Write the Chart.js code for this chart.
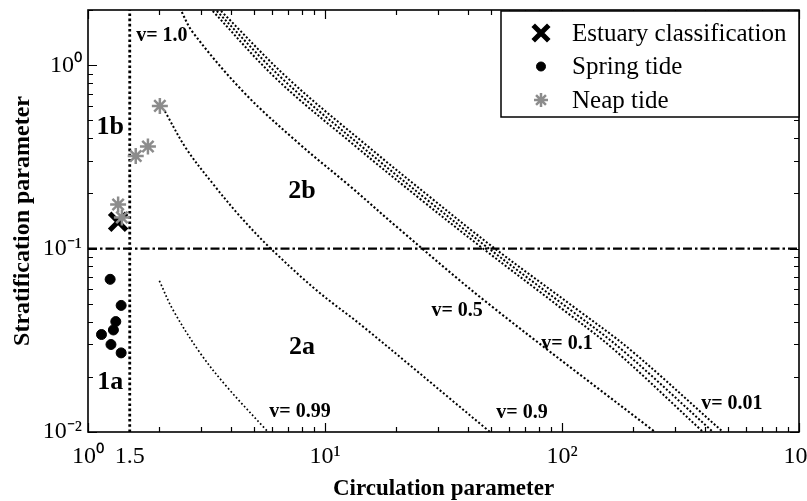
<!DOCTYPE html>
<html>
<head>
<meta charset="utf-8">
<script src="https://cdn.jsdelivr.net/npm/chart.js@4.4.0/dist/chart.umd.min.js"></script>
<style>
  html, body { margin: 0; padding: 0; background: #fff; overflow: hidden; }
  #wrap { width: 815px; height: 501px; }
</style>
</head>
<body>
<div id="wrap"><canvas id="chart"></canvas></div>
<script>
const estuaryX = [1.34];
const estuaryY = [0.14];

const springX = [1.24, 1.38, 1.31, 1.28, 1.14, 1.25, 1.38];
const springY = [0.068, 0.049, 0.040, 0.036, 0.034, 0.030, 0.027];

const neapX = [2.01, 1.79, 1.59, 1.34, 1.39];
const neapY = [0.60, 0.36, 0.32, 0.174, 0.148];

// v iso-lines (Hansen-Rattray)
const v10X = [1.5, 1.5];
const v10Y = [0.01, 2];

const v099X = [2.0, 2.28, 2.97, 3.86, 5.75];
const v099Y = [0.0668, 0.0465, 0.027, 0.0176, 0.01];

const v09X = [2.11, 2.6, 3.4, 4.38, 5.86, 9.25, 14.5, 49.7];
const v09Y = [0.561, 0.350, 0.222, 0.150, 0.101, 0.0590, 0.0375, 0.01];

const v05X = [2.44, 2.77, 4.6, 7.84, 12.8, 20.7, 48.3, 247];
const v05Y = [2.05, 1.51, 0.70, 0.370, 0.218, 0.127, 0.0507, 0.01];

const v01X = [3.27, 6.27, 13.5, 25.4, 46.0, 101, 166, 394];
const v01Y = [2.05, 0.837, 0.360, 0.185, 0.101, 0.0465, 0.0281, 0.01];

const v005X = [3.40, 6.65, 14.3, 26.9, 48.7, 108, 179, 434];
const v005Y = [2.05, 0.837, 0.360, 0.185, 0.101, 0.0465, 0.0281, 0.01];

const v001X = [3.54, 7.05, 15.2, 28.6, 51.6, 116, 194, 478];
const v001Y = [2.05, 0.837, 0.360, 0.185, 0.101, 0.0465, 0.0281, 0.01];

// stratification split a/b
const splitX = [1, 1000];
const splitY = [0.1, 0.1];

// axis ticks
const xLabelVals = [1, 1.5, 10, 100, 1000];
const xLabels = ['10\u2070', '1.5', '10\u00b9', '10\u00b2', '10\u00b3'];
const yLabelVals = [0.01, 0.1, 1];
const yLabels = ['10\u207b\u00b2', '10\u207b\u00b9', '10\u2070'];

const serif = "'Liberation Serif', 'Times New Roman', serif";

function pts(xs, ys) {
  return xs.map((x, i) => ({ x: x, y: ys[i] }));
}

function logTicks(min, max, extra) {
  const out = [];
  for (let d = min; d < max * 0.999; d *= 10) {
    for (let k = 1; k < 10; k++) {
      const v = +(d * k).toPrecision(6);
      if (v <= max * 1.0001) out.push(v);
    }
  }
  if (!out.includes(max)) out.push(max);
  (extra || []).forEach(v => { if (!out.includes(v)) out.push(v); });
  return out.sort((a, b) => a - b);
}

function isDecade(v) {
  const l = Math.log10(v);
  return Math.abs(l - Math.round(l)) < 1e-6;
}

function curve(label, xs, ys, width, dash) {
  return {
    label: label,
    data: pts(xs, ys),
    showLine: true,
    pointRadius: 0,
    borderColor: '#000',
    borderWidth: width,
    borderDash: dash,
    tension: 0.35,
    fill: false,
    order: 5
  };
}

// frame and inward tick marks on all four sides
const frameTicks = {
  id: 'frameTicks',
  afterDraw(chart) {
    const { ctx, chartArea: a, scales: { x, y } } = chart;
    ctx.save();
    ctx.strokeStyle = '#000';
    ctx.lineWidth = 1.2;
    ctx.beginPath();
    x.ticks.forEach(t => {
      if (t.value === 1.5) return;
      const px = Math.round(x.getPixelForValue(t.value)) + 0.5;
      const len = isDecade(t.value) ? 9 : 5;
      ctx.moveTo(px, a.bottom); ctx.lineTo(px, a.bottom - len);
      ctx.moveTo(px, a.top); ctx.lineTo(px, a.top + len);
    });
    y.ticks.forEach(t => {
      const py = Math.round(y.getPixelForValue(t.value)) + 0.5;
      const len = isDecade(t.value) ? 9 : 5;
      ctx.moveTo(a.left, py); ctx.lineTo(a.left + len, py);
      ctx.moveTo(a.right, py); ctx.lineTo(a.right - len, py);
    });
    ctx.stroke();
    ctx.lineWidth = 1.6;
    ctx.strokeRect(a.left, a.top, a.right - a.left, a.bottom - a.top);
    ctx.restore();
  }
};

// region and v-line labels placed in data space
const notes = [
  { text: '1b', x: 1.24, y: 0.458, size: 26 },
  { text: '2b', x: 8.0, y: 0.205, size: 26 },
  { text: '2a', x: 8.0, y: 0.0291, size: 26 },
  { text: '1a', x: 1.24, y: 0.0187, size: 26 },
  { text: 'v= 1.0', x: 2.05, y: 1.44, size: 20 },
  { text: 'v= 0.99', x: 7.84, y: 0.0129, size: 20 },
  { text: 'v= 0.9', x: 67.8, y: 0.0127, size: 20 },
  { text: 'v= 0.5', x: 36.1, y: 0.0458, size: 20 },
  { text: 'v= 0.1', x: 105, y: 0.0303, size: 20 },
  { text: 'v= 0.01', x: 521, y: 0.0142, size: 20 }
];

const noteLabels = {
  id: 'noteLabels',
  afterDatasetsDraw(chart) {
    const { ctx, scales: { x, y } } = chart;
    ctx.save();
    ctx.fillStyle = '#000';
    ctx.textAlign = 'center';
    ctx.textBaseline = 'middle';
    notes.forEach(n => {
      ctx.font = 'bold ' + n.size + 'px ' + serif;
      ctx.fillText(n.text, x.getPixelForValue(n.x), y.getPixelForValue(n.y));
    });
    ctx.restore();
  }
};

// boxed legend in the upper right corner of the plot
const boxLegend = {
  id: 'boxLegend',
  afterDraw(chart) {
    const { ctx, chartArea: a } = chart;
    const items = chart.data.datasets.filter(d => d.inLegend);
    const w = 298, h = 106;
    const left = a.right - w, top = a.top + 1;
    ctx.save();
    ctx.fillStyle = '#fff';
    ctx.fillRect(left, top, w, h);
    ctx.strokeStyle = '#000';
    ctx.lineWidth = 1.5;
    ctx.strokeRect(left, top, w, h);
    ctx.font = '25px ' + serif;
    ctx.textBaseline = 'middle';
    ctx.textAlign = 'left';
    items.forEach((d, i) => {
      const cy = top + 22 + i * 33.5;
      const cx = left + 40;
      ctx.strokeStyle = d.borderColor;
      ctx.fillStyle = d.backgroundColor;
      ctx.lineWidth = d.borderWidth;
      Chart.helpers.drawPoint(ctx, {
        pointStyle: d.pointStyle,
        radius: d.legendRadius,
        rotation: 0,
        borderWidth: d.borderWidth
      }, cx, cy);
      ctx.fillStyle = '#000';
      ctx.fillText(d.label, left + 71, cy + 1);
    });
    ctx.restore();
  }
};

const ctx = document.getElementById('chart').getContext('2d');

new Chart(ctx, {
  type: 'scatter',
  data: {
    datasets: [
      {
        label: 'Estuary classification',
        data: pts(estuaryX, estuaryY),
        pointStyle: 'crossRot',
        pointRadius: 12,
        borderWidth: 5,
        borderColor: '#000',
        backgroundColor: '#000',
        legendRadius: 11,
        inLegend: true,
        order: 1
      },
      {
        label: 'Spring tide',
        data: pts(springX, springY),
        pointStyle: 'circle',
        pointRadius: 5,
        borderWidth: 1,
        borderColor: '#000',
        backgroundColor: '#000',
        legendRadius: 4.5,
        inLegend: true,
        order: 2
      },
      {
        label: 'Neap tide',
        data: pts(neapX, neapY),
        pointStyle: 'star',
        pointRadius: 8,
        borderWidth: 2.5,
        borderColor: '#8c8c8c',
        backgroundColor: '#8c8c8c',
        legendRadius: 7,
        inLegend: true,
        order: 0
      },
      Object.assign(curve('v=1.0', v10X, v10Y, 2.8, [2.6, 2.6]), { tension: 0 }),
      curve('v=0.99', v099X, v099Y, 1.7, [1.7, 2.3]),
      curve('v=0.9', v09X, v09Y, 2, [2, 2.2]),
      curve('v=0.5', v05X, v05Y, 2.1, [2.1, 2.2]),
      curve('v=0.1', v01X, v01Y, 2, [2, 2]),
      curve('v=0.05', v005X, v005Y, 2, [2, 2]),
      curve('v=0.01', v001X, v001Y, 2, [2, 2]),
      Object.assign(curve('split', splitX, splitY, 2.2, [9, 3, 2.5, 3]), { tension: 0 })
    ]
  },
  options: {
    responsive: true,
    maintainAspectRatio: false,
    animation: false,
    layout: { autoPadding: false, padding: { top: 10, right: 16, left: 0, bottom: 0 } },
    plugins: {
      legend: { display: false },
      tooltip: { enabled: false }
    },
    scales: {
      x: {
        type: 'logarithmic',
        min: 1,
        max: 1000,
        grid: { display: false, drawTicks: false },
        border: { display: false },
        afterBuildTicks: s => { s.ticks = logTicks(1, 1000, [1.5]).map(v => ({ value: v })); },
        afterFit: s => { s.height = 69; s.paddingRight = 0; },
        ticks: {
          autoSkip: false,
          maxRotation: 0,
          padding: 10,
          color: '#000',
          font: { family: serif, size: 24 },
          callback: v => {
            const i = xLabelVals.indexOf(+(+v).toPrecision(6));
            return i >= 0 ? xLabels[i] : '';
          }
        },
        title: {
          display: true,
          text: 'Circulation parameter',
          color: '#000',
          font: { family: serif, size: 23, weight: 'bold' },
          padding: { top: 0, bottom: -2 }
        }
      },
      y: {
        type: 'logarithmic',
        min: 0.01,
        max: 2,
        grid: { display: false, drawTicks: false },
        border: { display: false },
        afterBuildTicks: s => { s.ticks = logTicks(0.01, 2).map(v => ({ value: v })); },
        afterFit: s => { s.width = 88; s.paddingTop = 0; s.paddingBottom = 0; },
        ticks: {
          autoSkip: false,
          padding: 6,
          color: '#000',
          font: { family: serif, size: 24 },
          callback: v => {
            const i = yLabelVals.indexOf(+(+v).toPrecision(6));
            return i >= 0 ? yLabels[i] : '';
          }
        },
        title: {
          display: true,
          text: 'Stratification parameter',
          color: '#000',
          font: { family: serif, size: 24, weight: 'bold' },
          padding: { top: 8, bottom: 0 }
        }
      }
    }
  },
  plugins: [noteLabels, frameTicks, boxLegend]
});
</script>
</body>
</html>
